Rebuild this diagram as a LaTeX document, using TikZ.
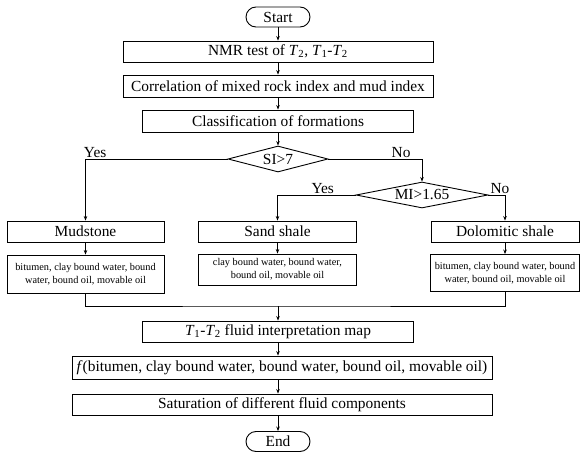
\documentclass[tikz,border=0pt]{standalone}
\usepackage{fontspec}
\setmainfont{Liberation Serif}
\usetikzlibrary{shapes.geometric,arrows.meta}
\newcommand{\Tsub}[1]{\textit{T}\textsubscript{#1}}
\begin{document}
\begin{tikzpicture}[x=1pt,y=-1pt,
  box/.style={draw, line width=0.9pt, minimum height=21pt, inner sep=1pt, font=\fontsize{15.4}{17}\selectfont},
  term/.style={box, rounded corners=10pt},
  dec/.style={draw, diamond, aspect=4, inner sep=0pt, line width=0.9pt, font=\fontsize{15.4}{17}\selectfont},
  small/.style={box, font=\fontsize{10.3}{12.7}\selectfont, align=center},
  link/.style={line width=0.8pt},
  arr/.style={link, -{Stealth[length=4.5pt,width=3.5pt]}},
  lab/.style={font=\fontsize{15.4}{17}\selectfont, inner sep=1pt, above}]
\useasboundingbox (0,0) rectangle (581,452);
\node[term, minimum width=64pt, minimum height=20pt] (start) at (278,17) {Start};
\node[box, minimum width=310pt] (nmr) at (278,51.5) {NMR test of \Tsub{2}, \Tsub{1}-\Tsub{2}};
\node[box, minimum width=310pt, minimum height=22pt] (corr) at (278,86) {Correlation of mixed rock index and mud index};
\node[box, minimum width=271pt, minimum height=22pt] (cls) at (278,121) {Classification of formations};
\node[dec, minimum width=100pt, minimum height=26pt] (si) at (278,159) {SI>7};
\node[dec, aspect=5, minimum width=132pt, minimum height=26pt] (mi) at (422,195) {MI>1.65};
\node[box, minimum width=157pt] (mud) at (85.5,231.5) {Mudstone};
\node[box, minimum width=158pt] (sand) at (277.5,231.5) {Sand shale};
\node[box, minimum width=148pt] (dolo) at (505,231.5) {Dolomitic shale};
\node[small, minimum width=157pt, minimum height=38pt] (mudf) at (85.5,274) {bitumen, clay bound water, bound\\water, bound oil, movable oil};
\node[small, minimum width=158pt, minimum height=31pt] (sandf) at (277.5,269.5) {clay bound water, bound water,\\bound oil, movable oil};
\node[small, minimum width=149pt, minimum height=37pt] (dolof) at (505,273) {bitumen, clay bound water, bound\\water, bound oil, movable oil};
\coordinate (mg) at (278,306);
\node[box, minimum width=271pt] (map) at (278,331.5) {\Tsub{1}-\Tsub{2} fluid interpretation map};
\node[box, minimum width=420pt, minimum height=23pt] (fx) at (282,367.5) {\textit{f}(bitumen, clay bound water, bound water, bound oil, movable oil)};
\node[box, minimum width=420pt] (sat) at (282,404.5) {Saturation of different fluid components};
\node[term, minimum width=64pt, minimum height=20pt] (end) at (278,441.5) {End};
\draw[arr] (start) -- (nmr);
\draw[arr] (nmr) -- (corr);
\draw[arr] (corr) -- (cls);
\draw[arr] (cls) -- (si);
\draw[arr] (si.west) -| node[lab, pos=0.466] {Yes} (mud.north);
\draw[arr] (si.east) -| node[lab, pos=0.388] {No} (mi.north);
\draw[arr] (mi.west) -| node[lab, pos=0.21] {Yes} (sand.north);
\draw[arr] (mi.east) -| node[lab, pos=0.35] {No} (dolo.north);
\draw[arr] (mud) -- (mudf);
\draw[arr] (sand) -- (sandf);
\draw[arr] (dolo) -- (dolof);
\draw[link] (mudf.south) |- (mg) -| (dolof.south);
\draw[arr] (mg) -- (map.north);
\draw[arr] (map.south) -- (map.south |- fx.north);
\draw[arr] (map.south |- fx.south) -- (map.south |- sat.north);
\draw[arr] (end.north |- sat.south) -- (end.north);
\end{tikzpicture}
\end{document}
